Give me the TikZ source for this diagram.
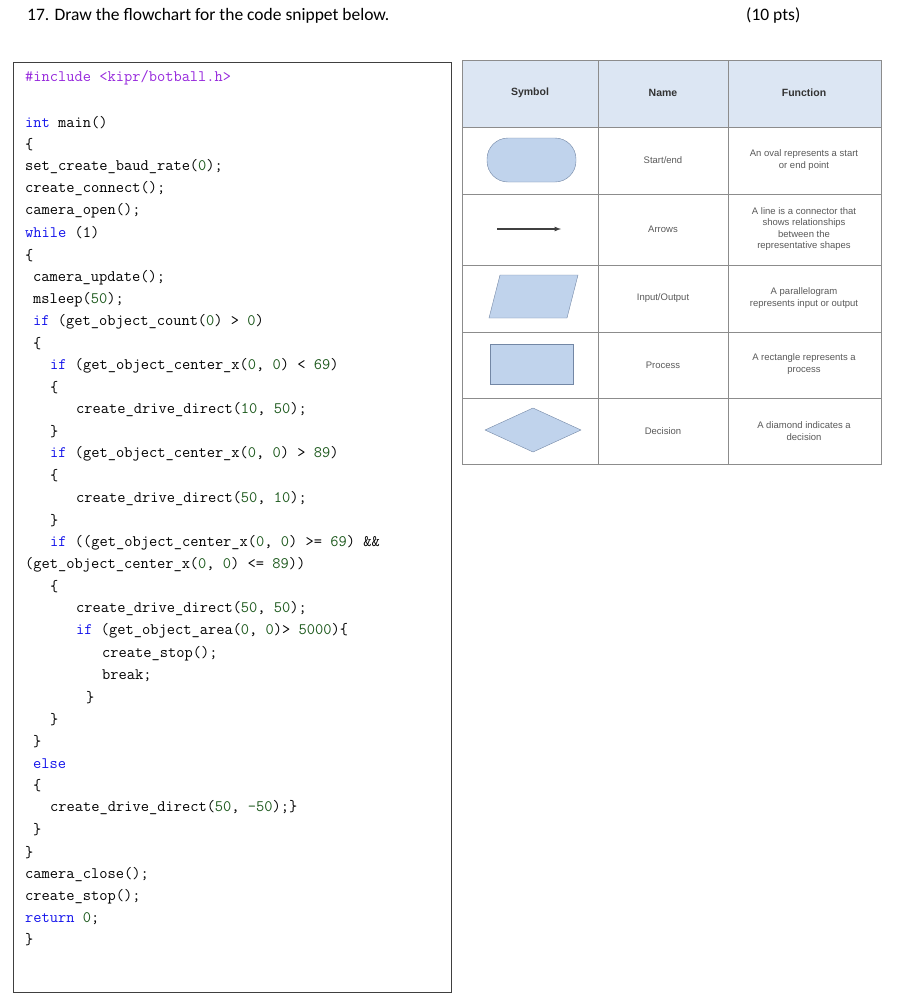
\documentclass[tikz,border=0pt]{standalone}
\usepackage{fontspec}
\setmainfont{Carlito}
\newfontfamily\tablefont{Liberation Sans}
\usetikzlibrary{positioning}
\definecolor{kwblue}{RGB}{20,20,235}
\definecolor{incpurple}{RGB}{150,40,220}
\definecolor{numgreen}{RGB}{30,90,30}
\definecolor{headblue}{RGB}{220,230,243}
\definecolor{shapefill}{RGB}{192,211,236}
\definecolor{shapeline}{RGB}{115,135,165}
\newcommand{\kw}[1]{\textcolor{kwblue}{#1}}
\newcommand{\nm}[1]{\textcolor{numgreen}{#1}}
\tikzset{
  codeline/.style={anchor=west, inner sep=0pt, font=\fontsize{16}{18}\selectfont\ttfamily},
  cell/.style={font=\fontsize{9.5}{11.5}\selectfont\tablefont, text=black!65, align=center},
  headcell/.style={font=\fontsize{10.5}{12}\selectfont\tablefont\bfseries, text=black!80},
  symbolshape/.style={draw=shapeline, fill=shapefill}
}
\begin{document}
\begin{tikzpicture}[x=1pt,y=-1pt]
\useasboundingbox (0,0) rectangle (909,1007);
\node[anchor=west, inner sep=0pt, font=\fontsize{17.5}{20}\selectfont] (question) at (27,16)
  {17. Draw the flowchart for the code snippet below.};
\node[anchor=west, inner sep=0pt, font=\fontsize{17.5}{20}\selectfont] (points) at (746,16) {(10 pts)};

% code box
\draw[thick, black!75] (13,62) rectangle (451,992);
\node[codeline] (c1) at (25,78) {\textcolor{incpurple}{\#include <kipr/botball.h>}};
\node[codeline] (c2) at (25,123) {\kw{int} main()};
\node[codeline] (c3) at (25,145) {\{};
\node[codeline] (c4) at (25,167) {set\_create\_baud\_rate(\nm{0});};
\node[codeline] (c5) at (25,189) {create\_connect();};
\node[codeline] (c6) at (25,211) {camera\_open();};
\node[codeline] (c7) at (25,233) {\kw{while} (1)};
\node[codeline] (c8) at (25,256) {\{};
\node[codeline] (c9) at (33,278) {camera\_update();};
\node[codeline] (c10) at (33,300) {msleep(\nm{50});};
\node[codeline] (c11) at (33,322) {\kw{if} (get\_object\_count(\nm{0}) > \nm{0})};
\node[codeline] (c12) at (33,344) {\{};
\node[codeline] (c13) at (50,366) {\kw{if} (get\_object\_center\_x(\nm{0}, \nm{0}) < \nm{69})};
\node[codeline] (c14) at (50,388) {\{};
\node[codeline] (c15) at (76,410) {create\_drive\_direct(\nm{10}, \nm{50});};
\node[codeline] (c16) at (50,432) {\}};
\node[codeline] (c17) at (50,454) {\kw{if} (get\_object\_center\_x(\nm{0}, \nm{0}) > \nm{89})};
\node[codeline] (c18) at (50,476) {\{};
\node[codeline] (c19) at (76,499) {create\_drive\_direct(\nm{50}, \nm{10});};
\node[codeline] (c20) at (50,521) {\}};
\node[codeline] (c21) at (50,543) {\kw{if} ((get\_object\_center\_x(\nm{0}, \nm{0}) >= \nm{69}) \&\&};
\node[codeline] (c22) at (25,565) {(get\_object\_center\_x(\nm{0}, \nm{0}) <= \nm{89}))};
\node[codeline] (c23) at (50,587) {\{};
\node[codeline] (c24) at (76,609) {create\_drive\_direct(\nm{50}, \nm{50});};
\node[codeline] (c25) at (76,631) {\kw{if} (get\_object\_area(\nm{0}, \nm{0})> \nm{5000})\{};
\node[codeline] (c26) at (102,654) {create\_stop();};
\node[codeline] (c27) at (102,676) {break;};
\node[codeline] (c28) at (86,698) {\}};
\node[codeline] (c29) at (50,720) {\}};
\node[codeline] (c30) at (33,742) {\}};
\node[codeline] (c31) at (33,764) {\kw{else}};
\node[codeline] (c32) at (33,786) {\{};
\node[codeline] (c33) at (50,808) {create\_drive\_direct(\nm{50}, \nm{-50});\}};
\node[codeline] (c34) at (33,830) {\}};
\node[codeline] (c35) at (25,853) {\}};
\node[codeline] (c36) at (25,875) {camera\_close();};
\node[codeline] (c37) at (25,897) {create\_stop();};
\node[codeline] (c38) at (25,919) {\kw{return} \nm{0};};
\node[codeline] (c39) at (25,940) {\}};

% symbol table
\fill[headblue] (462,60) rectangle (881,127);
\draw[black!45] (462,60) rectangle (881,464);
\foreach \y in {127,194,265,332,398} \draw[black!45] (462,\y) -- (881,\y);
\foreach \x in {598,728} \draw[black!45] (\x,60) -- (\x,464);
\node[headcell] (hsym) at (530,93) {Symbol};
\node[headcell] (hname) at (663,93) {Name};
\node[headcell] (hfun) at (804,93) {Function};

% symbol shapes
\draw[symbolshape, rounded corners=21pt] (487,138) rectangle (576,182);
\coordinate (arrstart) at (497,229);
\coordinate (arrend) at (561,229);
\draw[black!75, line width=1.2pt, -latex] (arrstart) -- (arrend);
\draw[symbolshape] (500,275) -- (578,275) -- (567,318) -- (489,318) -- cycle;
\draw[symbolshape] (490,344) rectangle (573,384);
\draw[symbolshape] (485,430) -- (533,408) -- (581,430) -- (533,452) -- cycle;

\node[cell] (n1) at (663,160) {Start/end};
\node[cell] (n2) at (663,229) {Arrows};
\node[cell] (n3) at (663,298) {Input/Output};
\node[cell] (n4) at (663,365) {Process};
\node[cell] (n5) at (663,431) {Decision};
\node[cell] (f1) at (804,160) {An oval represents a start\\or end point};
\node[cell] (f2) at (804,229) {A line is a connector that\\shows relationships\\between the\\representative shapes};
\node[cell] (f3) at (804,298) {A parallelogram\\represents input or output};
\node[cell] (f4) at (804,364) {A rectangle represents a\\process};
\node[cell] (f5) at (804,431) {A diamond indicates a\\decision};
\end{tikzpicture}
\end{document}
